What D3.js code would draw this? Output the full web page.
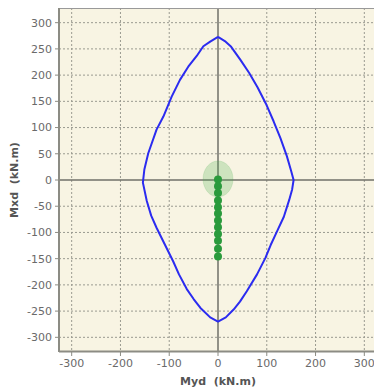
<!DOCTYPE html>
<html><head><meta charset="utf-8">
<script src="https://cdn.jsdelivr.net/npm/d3@7"></script>
<style>html,body{margin:0;padding:0;background:#fff;}svg{display:block;}</style>
</head><body>
<svg id="c" width="374" height="390"></svg>
<script>
const xTicks = [-300,-200,-100,0,100,200,300];
const yTicks = [300,250,200,150,100,50,0,-50,-100,-150,-200,-250,-300];
// interaction curve (My, Mx)
const curveMy = [0,14,27,46,64,81,98,114,128,141,150,155,152,146,135,121,108,97,80,59,45,32,16,0,-16,-36,-50,-64,-80,-92,-109,-126,-137,-146,-154,-151,-143,-126,-112,-95,-78,-61,-44,-30,-16,0];
const curveMx = [273,265,254,229,204,177,146,112,80,46,17,0,-18,-38,-70,-98,-124,-149,-180,-212,-232,-247,-262,-270,-262,-244,-227,-208,-180,-155,-123,-91,-68,-40,-5,20,51,96,121,159,191,216,236,255,264,273];
// load points
const ptMy = [0,0,0,0,0,0,0,0,0,0,0,0];
const ptMx = [1,-12,-25,-39,-52,-64,-77,-90,-103,-116,-131,-146];
const ellipseMy = 0, ellipseMx = 2;

const svg = d3.select('#c');
const L=59, R=377, T=8, B=352;
const x = d3.scaleLinear().domain([-326,326]).range([L,R]);
const y = d3.scaleLinear().domain([-328,328]).range([B,T]);

svg.append('rect').attr('x',L).attr('y',T).attr('width',R-L).attr('height',B-T).attr('fill','#f8f4e3');

svg.append('clipPath').attr('id','cp').append('rect').attr('x',L).attr('y',T).attr('width',R-L).attr('height',B-T);
const g = svg.append('g').attr('clip-path','url(#cp)');

// grid
g.selectAll('.gx').data(xTicks.filter(d=>d!==0)).enter().append('line')
 .attr('x1',d=>x(d)).attr('x2',d=>x(d)).attr('y1',T).attr('y2',B)
 .attr('stroke','#9a9a90').attr('stroke-width',1).attr('stroke-dasharray','2,2');
g.selectAll('.gy').data(yTicks.filter(d=>d!==0)).enter().append('line')
 .attr('y1',d=>y(d)).attr('y2',d=>y(d)).attr('x1',L).attr('x2',R)
 .attr('stroke','#9a9a90').attr('stroke-width',1).attr('stroke-dasharray','2,2');
// zero axes
g.append('line').attr('x1',x(0)).attr('x2',x(0)).attr('y1',T).attr('y2',B).attr('stroke','#707068').attr('stroke-width',1.5);
g.append('line').attr('y1',y(0)).attr('y2',y(0)).attr('x1',L).attr('x2',R).attr('stroke','#707068').attr('stroke-width',1.5);

// ellipse
g.append('ellipse').attr('cx',x(ellipseMy)).attr('cy',y(ellipseMx)).attr('rx',15).attr('ry',18)
 .attr('fill','#4caf50').attr('fill-opacity',0.25).attr('stroke','#4caf50').attr('stroke-opacity',0.15);

// curve
const pts = curveMy.map((d,i)=>[d,curveMx[i]]);
g.append('path').datum(pts).attr('d',d3.line().x(d=>x(d[0])).y(d=>y(d[1])))
 .attr('fill','none').attr('stroke','#2b2bf0').attr('stroke-width',2).attr('stroke-linejoin','round');

// points
g.selectAll('.pt').data(ptMy.map((d,i)=>[d,ptMx[i]])).enter().append('circle')
 .attr('cx',d=>x(d[0])).attr('cy',d=>y(d[1])).attr('r',4).attr('fill','#2a9a3c');

// borders
svg.append('line').attr('x1',L).attr('x2',R).attr('y1',T+0.5).attr('y2',T+0.5).attr('stroke','#999').attr('stroke-width',1);
svg.append('line').attr('x1',L).attr('x2',L).attr('y1',T).attr('y2',B).attr('stroke','#8c8c84').attr('stroke-width',2);
svg.append('line').attr('x1',L).attr('x2',R).attr('y1',B-0.5).attr('y2',B-0.5).attr('stroke','#8c8c84').attr('stroke-width',2);

// ticks and labels
const font = 'DejaVu Sans, Verdana, sans-serif';
svg.selectAll('.ty').data(yTicks).enter().append('line')
 .attr('x1',L-4).attr('x2',L).attr('y1',d=>y(d)).attr('y2',d=>y(d)).attr('stroke','#8c8c84');
svg.selectAll('.tyl').data(yTicks).enter().append('text')
 .attr('x',L-7).attr('y',d=>y(d)).attr('dy','0.35em').attr('text-anchor','end')
 .attr('font-family',font).attr('font-size',11).attr('fill','#6a6a6a').text(d=>d);
svg.selectAll('.tx').data(xTicks).enter().append('line')
 .attr('y1',B).attr('y2',B+4).attr('x1',d=>x(d)).attr('x2',d=>x(d)).attr('stroke','#8c8c84');
svg.selectAll('.txl').data(xTicks).enter().append('text')
 .attr('x',d=>x(d)).attr('y',B+15).attr('text-anchor','middle')
 .attr('font-family',font).attr('font-size',11).attr('fill','#6a6a6a').text(d=>d);

svg.append('text').attr('x',x(0)).attr('y',385).attr('text-anchor','middle')
 .attr('font-family',font).attr('font-size',11).attr('font-weight','bold').attr('fill','#555')
 .style('white-space','pre').text('Myd  (kN.m)');
svg.append('text').attr('transform',`translate(18,${y(0)}) rotate(-90)`).attr('text-anchor','middle')
 .attr('font-family',font).attr('font-size',11).attr('font-weight','bold').attr('fill','#555')
 .style('white-space','pre').text('Mxd  (kN.m)');
</script>
</body></html>
